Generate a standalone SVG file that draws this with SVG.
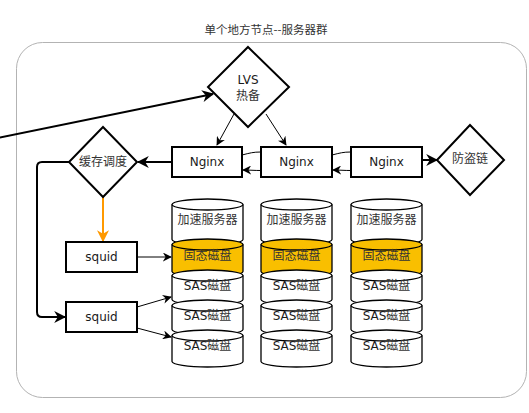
<svg xmlns="http://www.w3.org/2000/svg" width="529" height="413" viewBox="0 0 529 413">
<style>
text{font-family:"DejaVu Sans","Noto Sans CJK SC",sans-serif;font-size:12px;fill:#1a1a1a;text-anchor:middle}
.cjk{font-family:"Noto Sans CJK SC",sans-serif;fill:#333}
.box{fill:#fff;stroke:#000;stroke-width:2}
.cyl{stroke:#000;stroke-width:1.3}
.w{fill:#fff}
.o{fill:#f9bf00}
.front{fill:none;stroke:#000;stroke-width:1.3}
.thick{fill:none;stroke:#000;stroke-width:2}
.thin{fill:none;stroke:#000;stroke-width:1}
</style>
<defs>
<marker id="ah" viewBox="0 0 10 10" refX="9" refY="5" markerWidth="12" markerHeight="12" markerUnits="userSpaceOnUse" orient="auto">
<path d="M0,0 L10,5 L0,10 L3,5 Z" fill="#000"/>
</marker>
<marker id="ahs" viewBox="0 0 10 10" refX="9" refY="5" markerWidth="9" markerHeight="9" markerUnits="userSpaceOnUse" orient="auto">
<path d="M0,0 L10,5 L0,10 L3,5 Z" fill="#000"/>
</marker>
<marker id="aho" viewBox="0 0 10 10" refX="9" refY="5" markerWidth="12" markerHeight="12" markerUnits="userSpaceOnUse" orient="auto">
<path d="M0,0 L10,5 L0,10 L3,5 Z" fill="#ff9900"/>
</marker>
<g id="column">
<path class="cyl w" d="M0,204.5 A35.5,5.5 0 0 1 71,204.5 L71,239.5 A35.5,5.5 0 0 1 0,239.5 Z"/>
<path class="front" d="M0,204.5 A35.5,5.5 0 0 0 71,204.5"/>
<path class="cyl o" d="M0,244.5 A35.5,5.5 0 0 1 71,244.5 L71,271.5 A35.5,5.5 0 0 1 0,271.5 Z"/>
<path class="front" d="M0,244.5 A35.5,5.5 0 0 0 71,244.5"/>
<path class="cyl w" d="M0,275.5 A35.5,5.5 0 0 1 71,275.5 L71,299.5 A35.5,5.5 0 0 1 0,299.5 Z"/>
<path class="front" d="M0,275.5 A35.5,5.5 0 0 0 71,275.5"/>
<path class="cyl w" d="M0,305.5 A35.5,5.5 0 0 1 71,305.5 L71,329.5 A35.5,5.5 0 0 1 0,329.5 Z"/>
<path class="front" d="M0,305.5 A35.5,5.5 0 0 0 71,305.5"/>
<path class="cyl w" d="M0,335.5 A35.5,5.5 0 0 1 71,335.5 L71,361.5 A35.5,5.5 0 0 1 0,361.5 Z"/>
<path class="front" d="M0,335.5 A35.5,5.5 0 0 0 71,335.5"/>
<text class="cjk" x="35.5" y="224">加速服务器</text>
<text class="cjk" x="35.5" y="260">固态磁盘</text>
<text x="35.5" y="290">SAS<tspan class="cjk">磁盘</tspan></text>
<text x="35.5" y="320">SAS<tspan class="cjk">磁盘</tspan></text>
<text x="35.5" y="350">SAS<tspan class="cjk">磁盘</tspan></text>
</g>
</defs>

<g id="group-frame">
<rect x="16.5" y="42.5" width="510" height="355" rx="26" fill="#fff" stroke="#b3b3b3" stroke-width="1"/>
<text class="cjk" x="266" y="34" style="font-size:11.5px">单个地方节点--服务器群</text>
</g>

<g id="connectors">
<path class="thick" d="M-2,138 L213,94" marker-end="url(#ah)"/>
<path class="thin" d="M234,114 L217,145" marker-end="url(#ahs)"/>
<path class="thin" d="M266,114 L286,145" marker-end="url(#ahs)"/>
<path class="thin" d="M242,155 C250,153 253,152 261,152"/>
<path class="thin" d="M261,170.5 C254,170.5 250,170 243,170" marker-end="url(#ahs)"/>
<path class="thin" d="M332,155 C340,153 343,152 351,152"/>
<path class="thin" d="M351,170.5 C344,170.5 340,170 333,170" marker-end="url(#ahs)"/>
<path class="thick" d="M422,160 L437,160" marker-end="url(#ah)"/>
<path class="thick" d="M172,162 L138,162" marker-end="url(#ah)"/>
<path d="M103,197 L103,241" fill="none" stroke="#ff9900" stroke-width="2" marker-end="url(#aho)"/>
<path class="thick" d="M69,162 L42,162 Q37,162 37,167 L37,312 Q37,317 42,317 L65,317" marker-end="url(#ah)"/>
<path class="thin" d="M137,257 L171,257" marker-end="url(#ahs)"/>
<path class="thin" d="M137,307 L171,297" marker-end="url(#ahs)"/>
<path class="thin" d="M137,328 L171,337" marker-end="url(#ahs)"/>
</g>

<g id="node-lvs">
<path class="box" d="M248,47 L289,87 L248,127 L208,87 Z"/>
<text x="248" y="84">LVS</text>
<text class="cjk" x="248" y="100">热备</text>
</g>
<g id="node-nginx1">
<rect class="box" x="172" y="147" width="70" height="30"/>
<text x="207" y="166">Nginx</text>
</g>
<g id="node-nginx2">
<rect class="box" x="261" y="147" width="71" height="30"/>
<text x="296.5" y="166">Nginx</text>
</g>
<g id="node-nginx3">
<rect class="box" x="351" y="147" width="71" height="30"/>
<text x="386.5" y="166">Nginx</text>
</g>
<g id="node-fangdaolian">
<path class="box" d="M470,125 L504,160 L470,195 L437,160 Z"/>
<text class="cjk" x="470" y="163">防盗链</text>
</g>
<g id="node-huancun">
<path class="box" d="M103,127 L137,162 L103,197 L69,162 Z"/>
<text class="cjk" x="103" y="166">缓存调度</text>
</g>
<g id="node-squid1">
<rect class="box" x="66" y="242" width="71" height="30"/>
<text x="101.5" y="261">squid</text>
</g>
<g id="node-squid2">
<rect class="box" x="66" y="302" width="71" height="30"/>
<text x="101.5" y="321">squid</text>
</g>
<g id="node-stack1"><use href="#column" x="172"/></g>
<g id="node-stack2"><use href="#column" x="261"/></g>
<g id="node-stack3"><use href="#column" x="351"/></g>
</svg>
